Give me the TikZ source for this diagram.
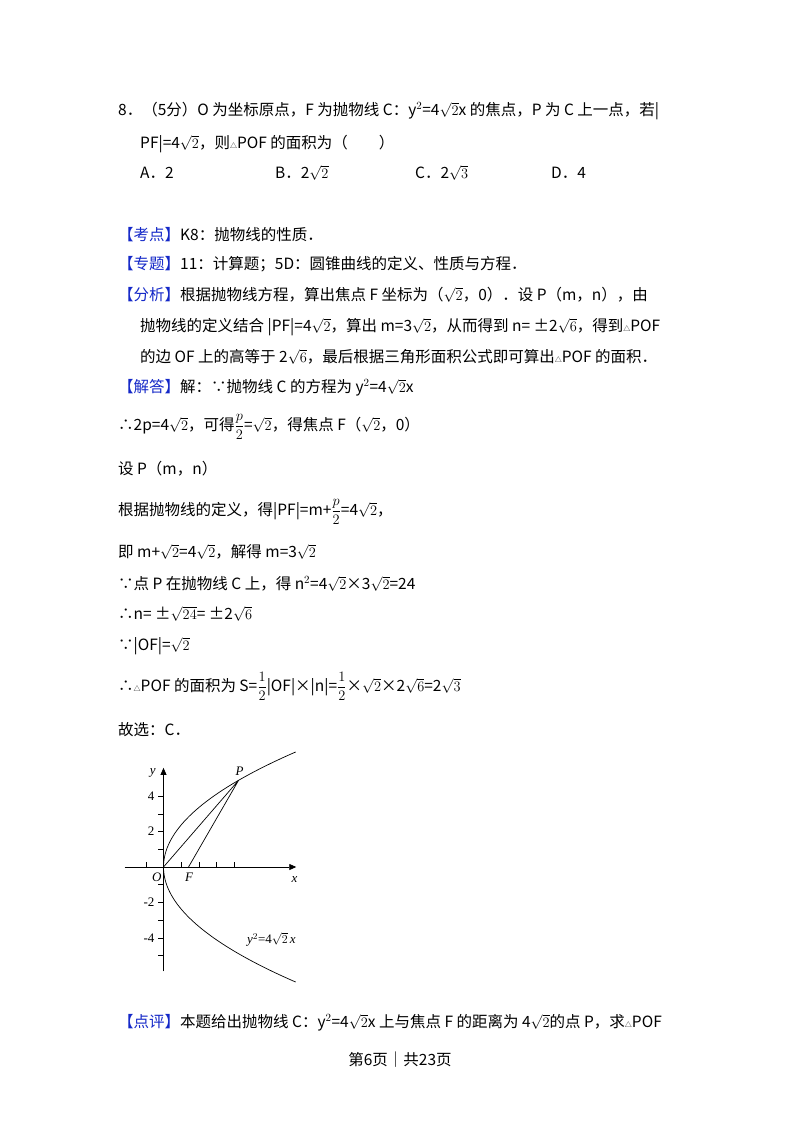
\documentclass[tikz,border=0pt]{standalone}
\usepackage{fontspec}
\setmainfont{Noto Sans CJK SC}
\newfontfamily\serif{Liberation Serif}
\usetikzlibrary{arrows.meta}
\definecolor{hd}{RGB}{20,40,200}
\begin{document}
\begin{tikzpicture}[x=1pt,y=-1pt,
  t/.style={anchor=base west,inner sep=0pt,font=\fontsize{15.5}{18}\selectfont},
  fl/.style={inner sep=1pt,font=\fontsize{13}{15}\selectfont\serif},
  ax/.style={line width=0.8pt,-{Triangle[length=7pt,width=6pt]}},
  cv/.style={line width=0.7pt}]
\useasboundingbox[fill=white] (0,0) rectangle (800,1132);
\newcommand{\hdr}[1]{{\color{hd}【#1】}}
\newcommand{\fr}[2]{$\displaystyle\frac{#1}{#2}$}
\node[t] (l1) at (118,115) {8．（5分）O 为坐标原点，F 为抛物线 C：y$^2$=4$\sqrt{2}$x 的焦点，P 为 C 上一点，若|};
\node[t] (l2) at (140,148) {PF|=4$\sqrt{2}$，则{\scriptsize△}POF 的面积为（　　）};
\node[t] (a) at (140,178) {A．2};
\node[t] (b) at (275,178) {B．2$\sqrt{2}$};
\node[t] (c) at (415,178) {C．2$\sqrt{3}$};
\node[t] (d) at (551,178) {D．4};
\node[t] (k) at (118,240) {\hdr{考点}K8：抛物线的性质．};
\node[t] (z) at (118,269) {\hdr{专题}11：计算题；5D：圆锥曲线的定义、性质与方程．};
\node[t] (f1) at (118,300) {\hdr{分析}根据抛物线方程，算出焦点 F 坐标为（$\sqrt{2}$，0）．设 P（m，n），由};
\node[t] (f2) at (140,331) {抛物线的定义结合 |PF|=4$\sqrt{2}$，算出 m=3$\sqrt{2}$，从而得到 n= ±2$\sqrt{6}$，得到{\scriptsize△}POF};
\node[t] (f3) at (140,362) {的边 OF 上的高等于 2$\sqrt{6}$，最后根据三角形面积公式即可算出{\scriptsize△}POF 的面积．};
\node[t] (j) at (118,392) {\hdr{解答}解：∵抛物线 C 的方程为 y$^2$=4$\sqrt{2}$x};
\node[t] (s1) at (118,430) {∴2p=4$\sqrt{2}$，可得\fr{p}{2}=$\sqrt{2}$，得焦点 F（$\sqrt{2}$，0）};
\node[t] (s2) at (118,474) {设 P（m，n）};
\node[t] (s3) at (118,515) {根据抛物线的定义，得|PF|=m+\fr{p}{2}=4$\sqrt{2}$，};
\node[t] (s4) at (118,557) {即 m+$\sqrt{2}$=4$\sqrt{2}$，解得 m=3$\sqrt{2}$};
\node[t] (s5) at (118,589) {∵点 P 在抛物线 C 上，得 n$^2$=4$\sqrt{2}$×3$\sqrt{2}$=24};
\node[t] (s6) at (118,619) {∴n= ±$\sqrt{24}$= ±2$\sqrt{6}$};
\node[t] (s7) at (118,650) {∵|OF|=$\sqrt{2}$};
\node[t] (s8) at (118,691) {∴{\scriptsize△}POF 的面积为 S=\fr{1}{2}|OF|×|n|=\fr{1}{2}×$\sqrt{2}$×2$\sqrt{6}$=2$\sqrt{3}$};
\node[t] (s9) at (118,735) {故选：C．};
\node[t] (dp) at (118,1027) {\hdr{点评}本题给出抛物线 C：y$^2$=4$\sqrt{2}$x 上与焦点 F 的距离为 4$\sqrt{2}$的点 P，求{\scriptsize△}POF};
\node[t,anchor=base] (pg) at (400,1065) {第6页｜共23页};
% figure
\begin{scope}[shift={(163.5,867)},x=17.7pt,y=17.7pt]
\coordinate (O) at (0,0);
\coordinate (xs) at (-2.2,0); \coordinate (xe) at (7.5,0);
\coordinate (ys) at (0,-5.9); \coordinate (ye) at (0,5.6);
\draw[ax] (xs) -- (xe);
\draw[ax] (ys) -- (ye);
\foreach \i in {-1,1,2,3,4} \draw[line width=0.6pt] (\i,0) -- (\i,0.3);
\foreach \i in {-5,-4,-3,-2,-1,1,2,3,4} \draw[line width=0.6pt] (0,\i) -- (-0.3,\i);
\foreach \i in {4,2,-2,-4} \node[fl,anchor=east] at (-0.45,\i) {\i};
\node[fl,anchor=north east] at (-0.05,-0.25) {\textit{O}};
\node[fl] at (7.4,-0.7) {\textit{x}};
\node[fl] at (-0.6,5.3) {\textit{y}};
\coordinate (F) at (1.414,0);
\coordinate (P) at (4.243,4.899);
\draw[cv,domain=-6.5:6.5,samples=80,variable=\t] plot ({\t*\t/5.657},\t);
\draw[cv] (O) -- (P) -- (F);
\node[fl] at (1.45,-0.6) {\textit{F}};
\node[fl] at (4.3,5.4) {\textit{P}};
\node[fl] at (6.1,-4.1) {\textit{y}$^2$=4$\sqrt{2}$\,\textit{x}};
\end{scope}
\end{tikzpicture}
\end{document}
